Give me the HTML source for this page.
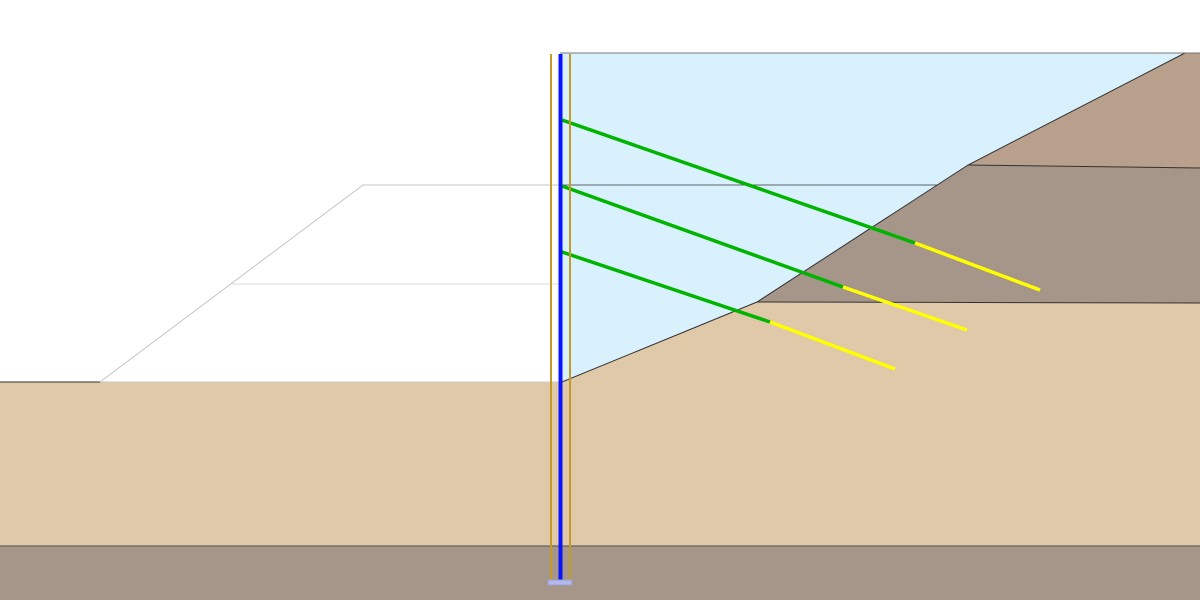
<!DOCTYPE html>
<html><head><meta charset="utf-8"><style>html,body{margin:0;padding:0;background:#fff}svg{display:block}</style></head>
<body>
<svg width="1200" height="600" viewBox="0 0 1200 600" xmlns="http://www.w3.org/2000/svg">
<rect x="0" y="0" width="1200" height="600" fill="#fff"/>
<!-- tan soil -->
<polygon points="0,382 562,382 757,302 1200,303 1200,546 0,546" fill="#dfc9a9"/>
<!-- bottom layer -->
<rect x="0" y="546" width="1200" height="54" fill="#a69689"/>
<line x1="0" y1="546" x2="1200" y2="546" stroke="#6b625c" stroke-width="1.2"/>
<!-- light blue excavation -->
<polygon points="560,53 1185,53 968,165 757,302 562,382 560,382" fill="#d9f0fd"/>
<!-- upper brown -->
<polygon points="968,165 1185,53 1200,53 1200,168" fill="#b8a08c"/>
<!-- middle brown -->
<polygon points="757,302 968,165 1200,168 1200,303" fill="#a69589"/>
<!-- outlines -->
<polyline points="562,382 757,302 968,165 1185,53" fill="none" stroke="#333" stroke-width="1"/>
<line x1="560" y1="53" x2="1200" y2="53" stroke="#777" stroke-width="1"/>
<line x1="968" y1="165" x2="1200" y2="168" stroke="#333" stroke-width="1"/>
<line x1="757" y1="302" x2="1200" y2="303" stroke="#333" stroke-width="1"/>
<line x1="560" y1="185" x2="937" y2="185" stroke="#333" stroke-width="0.8"/>
<line x1="0" y1="382" x2="100" y2="382" stroke="#333" stroke-width="1"/>
<!-- gray left outline -->
<polyline points="100,382 363,185 560,185" fill="none" stroke="#c4c4c4" stroke-width="1"/>
<line x1="232" y1="284" x2="560" y2="284" stroke="#e2e2e2" stroke-width="1.2"/>
<line x1="100" y1="382" x2="560" y2="382" stroke="#c8c8c8" stroke-width="1"/>
<!-- anchors -->
<g stroke-width="3.5" stroke-linecap="butt">
<line x1="562" y1="120" x2="915" y2="243" stroke="#00b400"/>
<line x1="915" y1="243" x2="1040" y2="290" stroke="#ffff00"/>
<line x1="562" y1="186" x2="843" y2="287" stroke="#00b400"/>
<line x1="843" y1="287" x2="967" y2="330" stroke="#ffff00"/>
<line x1="562" y1="252" x2="770" y2="322" stroke="#00b400"/>
<line x1="770" y1="322" x2="895" y2="369" stroke="#ffff00"/>
</g>
<!-- wall -->
<line x1="551" y1="54" x2="551" y2="580" stroke="#c49a28" stroke-width="2"/>
<line x1="570" y1="54" x2="570" y2="580" stroke="#c49a28" stroke-width="2"/>
<line x1="560.5" y1="54" x2="560.5" y2="580" stroke="#0a14ff" stroke-width="4"/>
<rect x="548" y="580" width="24" height="5" fill="#b4b8f0" stroke="#9aa0c8" stroke-width="1"/>
</svg>
</body></html>
